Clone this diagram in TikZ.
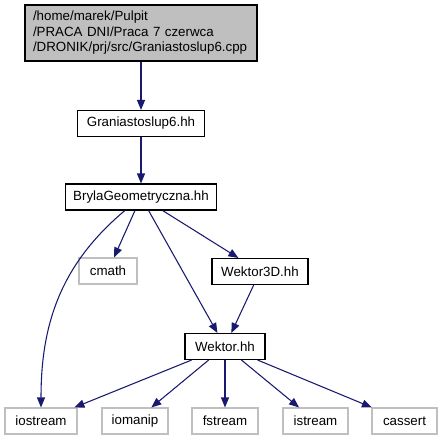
\documentclass[tikz,border=0pt]{standalone}
\usepackage{fontspec}
\setmainfont{Liberation Sans}
\usetikzlibrary{arrows.meta}
\definecolor{edgeblue}{HTML}{191970}
\definecolor{grey75}{HTML}{BFBFBF}

\begin{document}
\begin{tikzpicture}[x=0.75pt, y=-0.75pt, font=\fontsize{10}{11.6}\selectfont,
  D/.style={rectangle, draw=black, line width=0.8pt, fill=white, minimum height=19.5pt, inner sep=0pt},
  X/.style={D, draw=grey75},
  E/.style={draw=edgeblue, line width=0.8pt, -{Triangle[length=7.5pt,width=6pt]}}]
\useasboundingbox (0,0) rectangle (443,440);
% include graph of Graniastoslup6.cpp
\node[D, fill=grey75, minimum width=174pt, minimum height=42pt, text width=162pt, align=left] (cpp) at (141,33)
  {/home/marek/Pulpit\\/PRACA DNI/Praca 7 czerwca\\/DRONIK/prj/src/Graniastoslup6.cpp};
\node[D, minimum width=95.25pt] (gr6) at (141,123.5) {Graniastoslup6.hh};
\node[D, minimum width=113.25pt] (bryla) at (141,197) {BrylaGeometryczna.hh};
\node[X, minimum width=43.5pt] (cmath) at (108,271) {cmath};
\node[D, minimum width=72pt] (w3d) at (260,271.5) {Wektor3D.hh};
\node[D, minimum width=60pt] (wek) at (225,346.5) {Wektor.hh};
\node[X, minimum width=54pt] (iostream) at (41,421) {iostream};
\node[X, minimum width=49.5pt] (iomanip) at (135,421) {iomanip};
\node[X, minimum width=49.5pt] (fstream) at (225,421) {fstream};
\node[X, minimum width=48.75pt] (istream) at (315.5,421) {istream};
\node[X, minimum width=48.75pt] (cassert) at (404.5,421) {cassert};
\draw[E] (cpp)--(gr6);
\draw[E] (gr6)--(bryla);
\draw[E] (bryla) to[out=-140, in=90] (iostream);
\draw[E] (bryla)--(cmath);
\draw[E] (bryla)--(wek);
\draw[E] (bryla)--(w3d);
\draw[E] (w3d)--(wek);
\draw[E] (wek)--(iostream);
\draw[E] (wek)--(iomanip);
\draw[E] (wek)--(fstream);
\draw[E] (wek)--(istream);
\draw[E] (wek)--(cassert);
\end{tikzpicture}
\end{document}
